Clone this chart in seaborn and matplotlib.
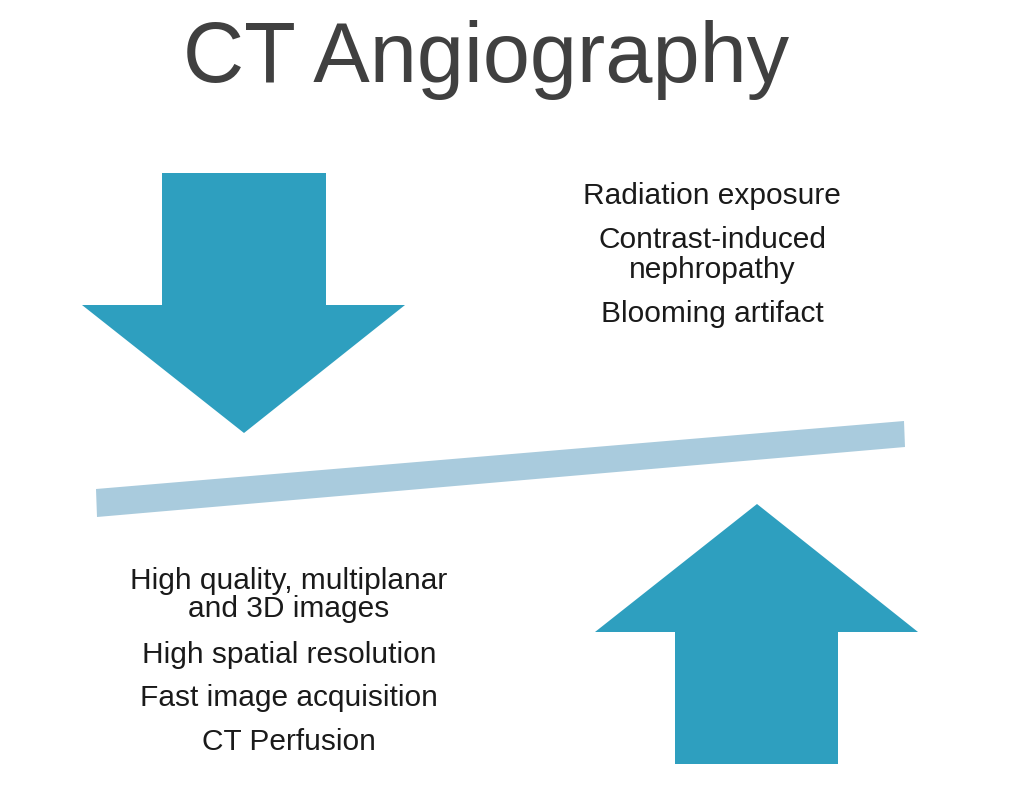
import numpy as np
import matplotlib
matplotlib.use("Agg")
import matplotlib.pyplot as plt
import seaborn as sns

# ============ DATA ============
title = "CT Angiography"

cons_lines = ["Radiation exposure", "Contrast-induced", "nephropathy", "Blooming artifact"]
cons_y = [196, 240, 270, 314]

pros_lines = ["High quality, multiplanar", "and 3D images", "High spatial resolution",
              "Fast image acquisition", "CT Perfusion"]
pros_y = [581, 609, 655, 698, 742]

# arrow outlines (pixel space of the slide)
down_x = [162, 326, 326, 405, 244, 82, 162]
down_y = [173, 173, 305, 305, 433, 305, 305]
up_x = [675, 838, 838, 918, 757, 595, 675]
up_y = [764, 764, 632, 632, 504, 632, 632]

# tilted balance beam
beam_x = [96, 904, 905, 97]
beam_y = [489, 421, 447, 517]

arrow_col = "#2E9FBF"
beam_col = "#A9CBDD"

# ============ PLOT ============
sns.set_theme(style="white")
plt.rcParams['font.family'] = ['Liberation Sans', 'DejaVu Sans']

fig = plt.figure(figsize=(10.09, 7.90), dpi=100)
ax = fig.add_axes([0, 0, 1, 1])
ax.set_xlim(0, 1009)
ax.set_ylim(790, 0)
ax.axis("off")

ax.fill(beam_x, beam_y, color=beam_col, lw=0)
ax.fill(down_x, down_y, color=arrow_col, lw=0)
ax.fill(up_x, up_y, color=arrow_col, lw=0)

ax.text(486, 60, title, ha="center", va="center", fontsize=61, color="#404040")

for t, y in zip(cons_lines, cons_y):
    ax.text(712, y, t, ha="center", va="center", fontsize=21.5, color="#1a1a1a")
for t, y in zip(pros_lines, pros_y):
    ax.text(289, y, t, ha="center", va="center", fontsize=21.5, color="#1a1a1a")

fig.savefig("out.png", dpi=100, facecolor="white")
